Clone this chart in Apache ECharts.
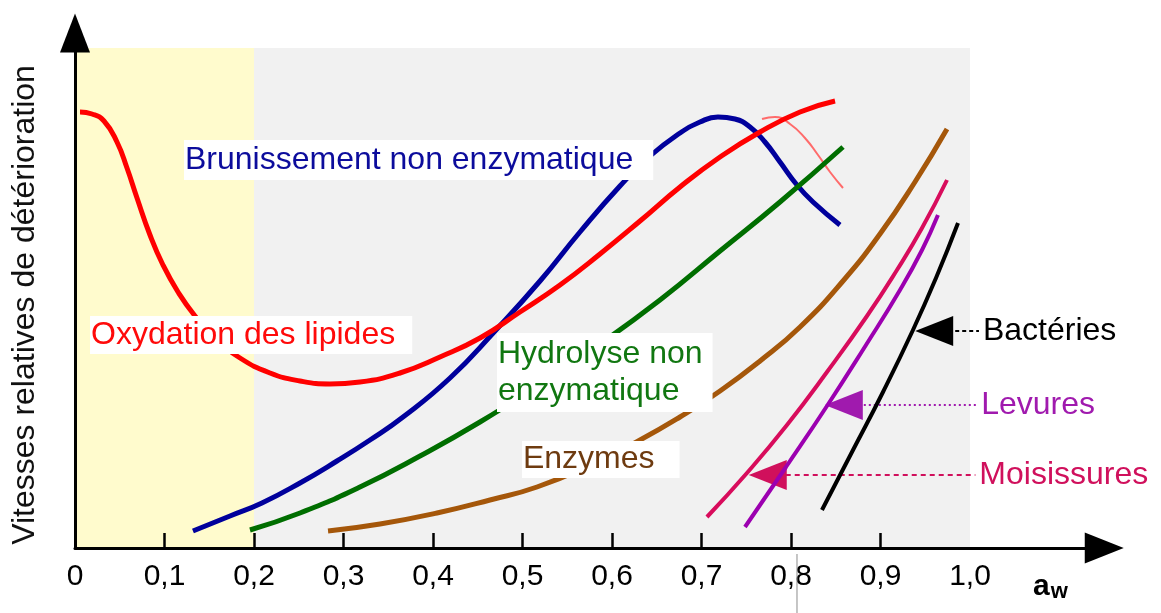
<!DOCTYPE html>
<html>
<head>
<meta charset="utf-8">
<script src="https://cdn.jsdelivr.net/npm/echarts@6/dist/echarts.min.js"></script>
<style>
  html, body { margin: 0; padding: 0; background: #ffffff; }
  #chart { width: 1161px; height: 613px; }
</style>
</head>
<body>
<div id="chart"></div>
<script>
// Activité de l'eau (aw) : graduations et libellés
const tickValues = [0, 0.1, 0.2, 0.3, 0.4, 0.5, 0.6, 0.7, 0.8, 0.9, 1.0];
const tickLabels = ['0', '0,1', '0,2', '0,3', '0,4', '0,5', '0,6', '0,7', '0,8', '0,9', '1,0'];
const tickMarks = [0.1, 0.2, 0.3, 0.4, 0.5, 0.6, 0.7, 0.8, 0.9];

// Zones : aw < 0,2 (jaune) et 0,2 – 1,0 (gris)
const zoneBounds = [0, 0.2, 1.0];
const zoneTop = 100;

// Vitesses relatives (unités arbitraires) en fonction de aw
const oxydation = [
  [0.0056, 87.2], [0.0190, 86.8], [0.0324, 85.4], [0.0469, 81.2], [0.0581, 76.0],
  [0.0693, 70.0], [0.0838, 62.6], [0.0983, 56.6], [0.1151, 51.2], [0.1341, 46.4],
  [0.1564, 42.0], [0.1844, 38.0], [0.2179, 35.0], [0.2514, 33.4], [0.2849, 32.8],
  [0.3184, 33.2], [0.3631, 35.0], [0.4078, 38.2], [0.4525, 42.0], [0.4972, 47.2],
  [0.5419, 52.6], [0.5866, 58.8], [0.6313, 65.4], [0.6760, 72.2], [0.7207, 78.2],
  [0.7654, 83.2], [0.8101, 87.2], [0.8492, 89.4]
];
const oxydationVariante = [
  [0.7676, 85.8], [0.7821, 86.2], [0.7989, 84.8], [0.8156, 82.0],
  [0.8302, 78.6], [0.8436, 75.2], [0.8581, 72.0]
];
const brunissement = [
  [0.1318, 3.4], [0.1732, 6.4], [0.2089, 9.0], [0.2514, 13.0], [0.2927, 17.4],
  [0.3296, 21.6], [0.3665, 26.2], [0.4190, 34.0], [0.4693, 43.4], [0.5196, 53.4],
  [0.5642, 63.2], [0.6089, 72.4], [0.6425, 78.4], [0.6760, 83.0], [0.6983, 85.2],
  [0.7184, 86.2], [0.7374, 85.8], [0.7542, 84.2], [0.7709, 81.2], [0.7877, 77.2],
  [0.8067, 72.6], [0.8246, 69.2], [0.8547, 64.6]
];
const hydrolyse = [
  [0.1955, 3.6], [0.2514, 7.0], [0.3184, 12.2], [0.3855, 18.4], [0.4525, 25.2],
  [0.5196, 32.8], [0.5866, 40.8], [0.6536, 49.6], [0.7207, 59.4], [0.7877, 69.2], [0.8581, 80.2]
];
const enzymes = [
  [0.2827, 3.4], [0.3408, 4.8], [0.4045, 7.0], [0.4637, 9.6], [0.5162, 12.2],
  [0.5754, 16.6], [0.6313, 21.6], [0.6760, 26.2], [0.7207, 31.4], [0.7654, 37.4],
  [0.8101, 44.2], [0.8581, 53.4], [0.8994, 62.8], [0.9385, 73.2], [0.9743, 83.8]
];
const moisissures = [
  [0.7061, 6.2], [0.7508, 15.0], [0.7955, 24.6], [0.8402, 35.2],
  [0.8849, 46.4], [0.9184, 55.6], [0.9464, 64.0], [0.9743, 73.6]
];
const levures = [
  [0.7486, 4.2], [0.7944, 16.2], [0.8402, 28.4], [0.8838, 40.6],
  [0.9218, 51.6], [0.9464, 59.6], [0.9642, 66.6]
];
const bacteries = [
  [0.8346, 7.6], [0.8693, 19.6], [0.9028, 31.2], [0.9363, 43.6], [0.9620, 54.0], [0.9866, 65.0]
];

// Flèches de légende : [début (pointe), fin, hauteur]
const calloutBacteries = [0.960, 1.010, 43.4];
const calloutLevures = [0.859, 1.008, 28.6];
const calloutMoisissures = [0.774, 1.006, 14.6];

const FONT = '"Liberation Sans", Arial, Helvetica, sans-serif';

const chart = echarts.init(document.getElementById('chart'), null, { renderer: 'canvas' });

function curve(name, data, color, width, z) {
  return {
    name: name, type: 'line', data: data, smooth: 0.5, symbol: 'none',
    lineStyle: { color: color, width: width }, z: z, silent: true, animation: false
  };
}

function callout(spec, text, color, dash) {
  return {
    silent: true, animation: false,
    symbol: ['triangle', 'none'],
    lineStyle: { color: color, width: 2, type: dash },
    label: { show: true, position: 'end', formatter: text, color: color, fontSize: 32, fontFamily: FONT, distance: 4 },
    emphasis: { disabled: true },
    data: [[
      { coord: [spec[0], spec[2]], symbol: 'triangle', symbolSize: [30, 38], itemStyle: { color: color } },
      { coord: [spec[1], spec[2]], symbol: 'none' }
    ]]
  };
}

const bgSeries = {
  type: 'line', data: [], z: 1, silent: true, animation: false,
  markArea: {
    silent: true,
    data: [
      [{ xAxis: zoneBounds[0], yAxis: 0, itemStyle: { color: '#fffbcd' } }, { xAxis: zoneBounds[1], yAxis: zoneTop }],
      [{ xAxis: zoneBounds[1], yAxis: 0, itemStyle: { color: '#f1f1f1' } }, { xAxis: zoneBounds[2], yAxis: zoneTop }]
    ]
  }
};

const sBacteries = curve('Bactéries', bacteries, '#000000', 4, 9);
sBacteries.markLine = callout(calloutBacteries, 'Bactéries', '#000000', [4, 3]);
const sLevures = curve('Levures', levures, '#9c00b0', 4, 8);
sLevures.markLine = callout(calloutLevures, 'Levures', '#a01aae', [2, 3]);
const sMoisissures = curve('Moisissures', moisissures, '#d80c5c', 4, 7);
sMoisissures.markLine = callout(calloutMoisissures, 'Moisissures', '#d0105c', [5, 4]);

chart.setOption({
  animation: false,
  grid: { left: 75, top: 33, width: 1029.25, height: 515, containLabel: false },
  xAxis: {
    type: 'value', min: 0, max: 1.15, z: 10,
    axisLine: { show: true, lineStyle: { color: '#000', width: 3 }, symbol: ['none', 'triangle'], symbolSize: [31, 39] },
    axisTick: { show: true, inside: true, length: 15, lineStyle: { color: '#000', width: 2.5 }, customValues: tickMarks },
    axisLabel: {
      show: true, customValues: tickValues, margin: 14, color: '#000', fontSize: 30, fontFamily: FONT,
      formatter: function (v) {
        const i = tickValues.findIndex(function (t) { return Math.abs(t - v) < 1e-6; });
        return i >= 0 ? tickLabels[i] : '';
      }
    },
    splitLine: { show: false }
  },
  yAxis: {
    type: 'value', min: 0, max: 103, z: 10,
    axisLine: { show: true, lineStyle: { color: '#000', width: 3 }, symbol: ['none', 'triangle'], symbolSize: [30, 39] },
    axisTick: { show: false }, axisLabel: { show: false }, splitLine: { show: false }
  },
  series: [
    bgSeries,
    curve('Brunissement non enzymatique', brunissement, '#00009c', 5, 2),
    curve('Oxydation (variante)', oxydationVariante, '#ff6b6b', 2, 3),
    curve('Oxydation des lipides', oxydation, '#ff0000', 5, 4),
    curve('Hydrolyse non enzymatique', hydrolyse, '#006e00', 5, 5),
    curve('Enzymes', enzymes, '#a5570a', 5, 6),
    sMoisissures, sLevures, sBacteries
  ]
});

// Étiquettes sur fond blanc, ancrées en coordonnées (aw, vitesse)
function px(x, y) { return chart.convertToPixel({ gridIndex: 0 }, [x, y]); }
const labels = [
  { text: 'Brunissement non enzymatique', at: [0.1218, 81.6], color: '#0c0c9c', padding: [2, 20, 1, 1] },
  { text: 'Oxydation des lipides', at: [0.0168, 46.4], color: '#ff0a0a', padding: [1, 17, 0, 1] },
  { text: 'Hydrolyse non\nenzymatique', at: [0.4715, 43.0], color: '#117711', padding: [3, 10, 2, 1] },
  { text: 'Enzymes', at: [0.4994, 21.4], color: '#6e3b10', padding: [0, 25, 0, 1] }
];
const graphics = labels.map(function (l) {
  const p = px(l.at[0], l.at[1]);
  return {
    type: 'text', x: p[0], y: p[1], z: 100, silent: true,
    style: {
      text: l.text, fill: l.color, font: '32px ' + FONT, lineHeight: 37,
      backgroundColor: '#ffffff', padding: l.padding, align: 'left', verticalAlign: 'top'
    }
  };
});

const yName = px(-0.0559, 48.6);
graphics.push({
  type: 'text', x: yName[0], y: yName[1], rotation: Math.PI / 2, z: 100, silent: true,
  style: { text: 'Vitesses relatives de détérioration', fill: '#111', font: '32px ' + FONT, align: 'center', verticalAlign: 'middle' }
});

const awPos = px(1.0704, -4.5);
graphics.push({
  type: 'text', x: awPos[0], y: awPos[1], z: 100, silent: true,
  style: {
    text: '{a|a}{w|w}', align: 'left', verticalAlign: 'top',
    rich: {
      a: { font: 'bold 30px ' + FONT, fill: '#000' },
      w: { font: 'bold 22px ' + FONT, fill: '#000', padding: [10, 0, 0, 1] }
    }
  }
});

const mark = [px(0.8067, -1.2), px(0.8067, -13.5)];
graphics.push({
  type: 'line', z: 100, silent: true,
  shape: { x1: mark[0][0], y1: mark[0][1], x2: mark[1][0], y2: mark[1][1] },
  style: { stroke: '#8c8c8c', lineWidth: 1 }
});

chart.setOption({ graphic: graphics });
</script>
</body>
</html>
